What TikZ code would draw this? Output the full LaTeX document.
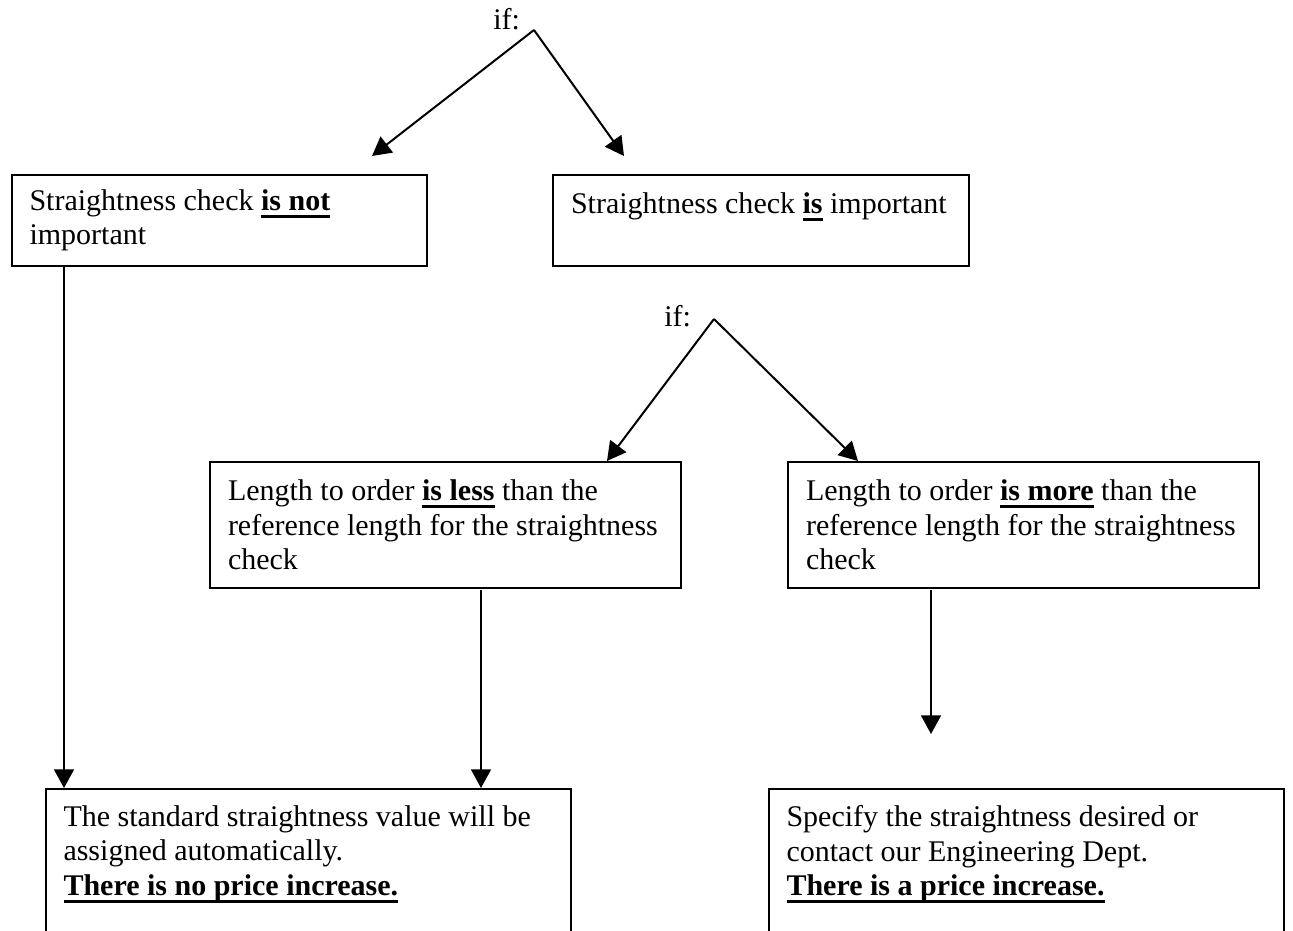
\documentclass[tikz,border=0pt]{standalone}
\usepackage{fontspec}
\setmainfont{Liberation Serif}
\usepackage{tikz}
\usetikzlibrary{arrows.meta}
\newsavebox{\ulbox}
\newcommand{\bul}[1]{\leavevmode\sbox{\ulbox}{\textbf{#1}}\rlap{\rule[-3pt]{\wd\ulbox}{1.3pt}}\usebox{\ulbox}}

\begin{document}
\begin{tikzpicture}[x=0.4pt,y=-0.4pt,line width=0.8pt,
  font=\fontsize{12}{13.8}\selectfont,
  box/.style n args={3}{draw,rectangle,anchor=north west,align=left,inner xsep=7pt,text width=#1,minimum width=#2,minimum height=#3,
    execute at begin node={\spaceskip=3pt plus 1pt minus 1pt\hyphenpenalty=10000}},
  arr/.style={-{Triangle[length=7.5pt,width=8pt]}}]
\useasboundingbox (0,0) rectangle (1293,931);
\clip (0,0) rectangle (1293,931);
% first choice
\node[anchor=base east,inner sep=0pt] (if1) at (521,30) {if:};
\coordinate (fork1) at (534,30);
\node[box={152pt}{166pt}{36.4pt}] (notimp) at (11,174)
   {Straightness check \bul{is not}\\important};
\node[box={152pt}{166.4pt}{36.4pt}] (imp) at (552,174)
   {Straightness check \bul{is} important\\\mbox{}};
% second choice
\node[anchor=base east,inner sep=0pt] (if2) at (692,327) {if:};
\coordinate (fork2) at (714,319);
\node[box={174pt}{188.4pt}{50.4pt}] (less) at (209,461)
   {Length to order \bul{is less} than the\\reference length for the straightness\\check};
\node[box={174pt}{188.4pt}{50.4pt}] (more) at (787,461)
   {Length to order \bul{is more} than the\\reference length for the straightness\\check};
% results
\node[box={196pt}{210pt}{63pt}] (noinc) at (45,788)
   {The standard straightness value will be\\assigned automatically.\\\bul{There is no price increase.}\\\mbox{}};
\node[box={192pt}{206pt}{63pt}] (inc) at (768,788)
   {Specify the straightness desired or\\contact our Engineering Dept.\\\bul{There is a price increase.}\\\mbox{}};
% arrow ends
\coordinate (t1) at (372,156);
\coordinate (t2) at (624,156);
\coordinate (t3) at (607,461);
\coordinate (t4) at (858,461);
\coordinate (s1) at (64,265);
\coordinate (t5) at (64,788);
\coordinate (s2) at (481,590);
\coordinate (t6) at (481,788);
\coordinate (s3) at (931,590);
\coordinate (t7) at (931,734);
\foreach \a/\b in {fork1/t1,fork1/t2,fork2/t3,fork2/t4,s1/t5,s2/t6,s3/t7} {
   \draw[arr] (\a) -- (\b);
}
\end{tikzpicture}
\end{document}
